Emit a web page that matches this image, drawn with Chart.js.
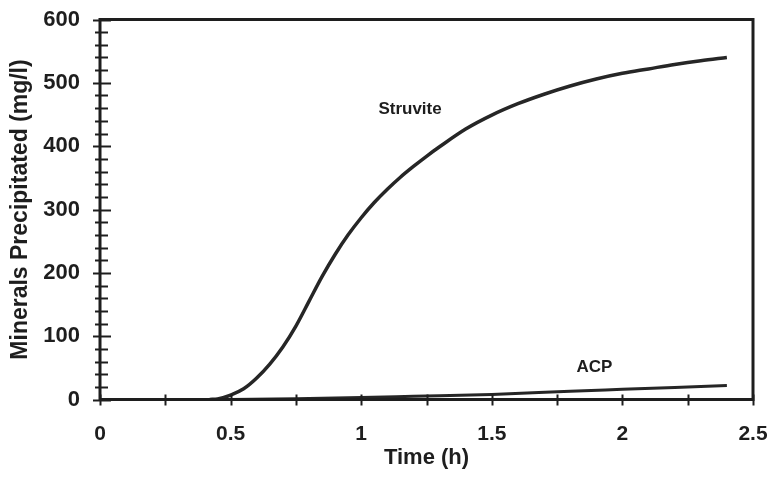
<!DOCTYPE html>
<html>
<head>
<meta charset="utf-8">
<title>Minerals Precipitated</title>
<script src="https://cdn.jsdelivr.net/npm/chart.js@4/dist/chart.umd.min.js"></script>
<style>
  html, body { margin: 0; padding: 0; background: #fff; }
  canvas { display: block; }
</style>
</head>
<body>
<canvas id="chart" width="767" height="481"></canvas>
<script>
// Struvite precipitation over time (h, mg/l)
const struviteTime = [0.42, 0.45, 0.5, 0.55, 0.6, 0.65, 0.7, 0.75, 0.8, 0.85, 0.9, 0.95, 1.0, 1.05, 1.1, 1.15, 1.2, 1.25, 1.3, 1.4, 1.5, 1.6, 1.7, 1.8, 1.9, 2.0, 2.1, 2.2, 2.3, 2.4];
const struviteMass = [0, 1, 7, 17, 34, 56, 83, 116, 155, 194, 229, 260, 287, 311, 332, 351, 368, 384, 399, 427, 449, 467, 482, 495, 506, 515, 522, 529, 535, 540];

// Amorphous calcium phosphate precipitation (h, mg/l)
const acpTime = [0.5, 0.75, 1.0, 1.2, 1.5, 1.8, 2.0, 2.2, 2.4];
const acpMass = [0, 1, 3, 5, 8, 13, 16, 19, 22];

// Curve labels: [text, time, mass]
const curveLabels = [["Struvite", 1.187, 458], ["ACP", 1.893, 51]];

const INK = '#1e1e1e';
const SANS = '"Liberation Sans", Arial, sans-serif';

const toPoints = (xs, ys) => xs.map((x, i) => ({ x, y: ys[i] }));

// Frame, crossing tick marks and curve labels
const decorations = {
  id: 'decorations',
  afterDraw(chart) {
    const { ctx, chartArea: a, scales: { x, y } } = chart;
    ctx.save();
    ctx.strokeStyle = INK;
    ctx.lineCap = 'butt';

    ctx.lineWidth = 2;
    y.ticks.forEach(t => {
      const py = Math.round(y.getPixelForValue(t.value)) + 0.5;
      const major = Math.abs(t.value % 100) < 1e-6;
      ctx.beginPath();
      ctx.moveTo(a.left - (major ? 7 : 5), py);
      ctx.lineTo(a.left + (major ? 11 : 8), py);
      ctx.stroke();
    });
    x.ticks.forEach(t => {
      const px = Math.round(x.getPixelForValue(t.value)) + 0.5;
      ctx.beginPath();
      ctx.moveTo(px, a.bottom - 5);
      ctx.lineTo(px, a.bottom + 6);
      ctx.stroke();
    });

    ctx.lineWidth = 3;
    ctx.strokeRect(a.left, a.top, a.right - a.left, a.bottom - a.top);

    ctx.fillStyle = INK;
    ctx.font = 'bold 17px ' + SANS;
    ctx.textAlign = 'center';
    ctx.textBaseline = 'middle';
    curveLabels.forEach(([text, t, v]) => {
      ctx.fillText(text, x.getPixelForValue(t), y.getPixelForValue(v));
    });
    ctx.restore();
  }
};

new Chart(document.getElementById('chart'), {
  type: 'line',
  data: {
    datasets: [
      {
        label: 'Struvite',
        data: toPoints(struviteTime, struviteMass),
        borderColor: '#262626',
        borderWidth: 3.5,
        pointRadius: 0,
        cubicInterpolationMode: 'monotone',
        fill: false
      },
      {
        label: 'ACP',
        data: toPoints(acpTime, acpMass),
        borderColor: '#262626',
        borderWidth: 3,
        pointRadius: 0,
        cubicInterpolationMode: 'monotone',
        fill: false
      }
    ]
  },
  options: {
    responsive: false,
    animation: false,
    devicePixelRatio: 1,
    layout: { padding: { top: 19.5, right: 14, left: 0, bottom: 0 } },
    plugins: { legend: { display: false }, tooltip: { enabled: false } },
    scales: {
      x: {
        type: 'linear',
        min: 0,
        max: 2.5,
        afterFit: s => { s.height = 81.5; s.paddingLeft = 0; s.paddingRight = 0; },
        grid: { display: false, drawTicks: false },
        border: { display: false },
        ticks: {
          stepSize: 0.25,
          autoSkip: false,
          maxRotation: 0,
          padding: 22,
          color: INK,
          font: { family: SANS, weight: 'bold', size: 21 },
          callback: v => (Math.abs(v * 2 - Math.round(v * 2)) < 1e-6 ? String(v) : '')
        },
        title: {
          display: true,
          text: 'Time (h)',
          color: INK,
          padding: { bottom: 10, top: 0 },
          font: { family: SANS, weight: 'bold', size: 22 }
        }
      },
      y: {
        min: 0,
        max: 600,
        afterFit: s => { s.width = 100; s.paddingTop = 0; s.paddingBottom = 0; },
        grid: { display: false, drawTicks: false },
        border: { display: false },
        ticks: {
          stepSize: 20,
          autoSkip: false,
          padding: 20,
          color: INK,
          font: { family: SANS, weight: 'bold', size: 22 },
          callback: v => (v % 100 === 0 ? String(v) : '')
        },
        title: {
          display: true,
          text: 'Minerals Precipitated (mg/l)',
          color: INK,
          padding: { top: 7, bottom: 0 },
          font: { family: SANS, weight: 'bold', size: 23 }
        }
      }
    }
  },
  plugins: [decorations]
});
</script>
</body>
</html>
